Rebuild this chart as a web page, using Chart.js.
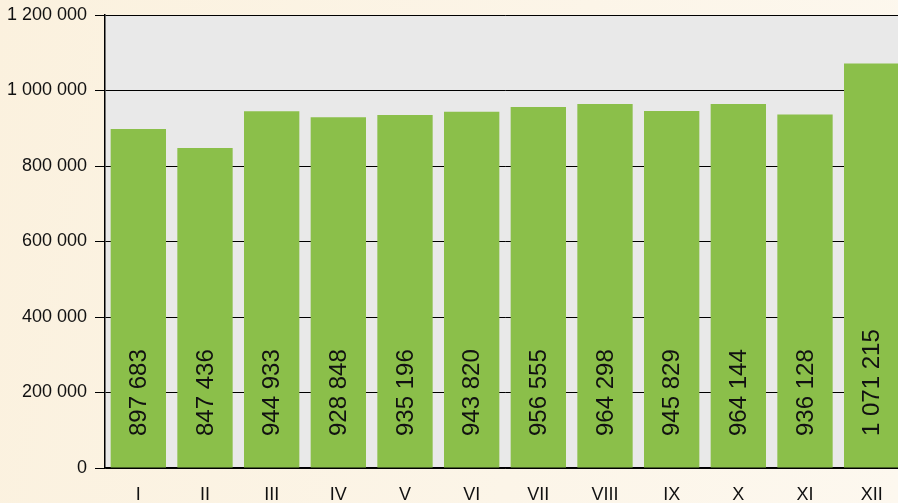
<!DOCTYPE html>
<html>
<head>
<meta charset="utf-8">
<script src="https://cdn.jsdelivr.net/npm/chart.js@4"></script>
<style>
  html, body { margin: 0; padding: 0; overflow: hidden; }
  body { width: 898px; height: 503px; background: linear-gradient(100deg, #fbf1de 0%, #fcf5e8 60%, #fdf8ef 100%); }
  #wrap { width: 905px; height: 503px; }
</style>
</head>
<body>
<div id="wrap"><canvas id="chart" width="905" height="503"></canvas></div>
<script>
// Monthly values
const months = ['I', 'II', 'III', 'IV', 'V', 'VI', 'VII', 'VIII', 'IX', 'X', 'XI', 'XII'];
const values = [897683, 847436, 944933, 928848, 935196, 943820, 956555, 964298, 945829, 964144, 936128, 1071215];
const yTicks = [0, 200000, 400000, 600000, 800000, 1000000, 1200000];

const fmt = v => String(v).replace(/\B(?=(\d{3})+(?!\d))/g, ' ');

// grey plot area
const plotBg = {
    id: 'plotBg',
    beforeDraw(chart) {
        const a = chart.chartArea;
        const ctx = chart.ctx;
        ctx.save();
        ctx.fillStyle = '#e9e9e9';
        ctx.fillRect(a.left, a.top, a.right - a.left, a.bottom - a.top);
        ctx.restore();
    }
};

// rotated value labels inside bars
const valueLabels = {
    id: 'valueLabels',
    afterDatasetsDraw(chart) {
        const ctx = chart.ctx;
        const meta = chart.getDatasetMeta(0);
        const y0 = chart.scales.y.getPixelForValue(0);
        ctx.save();
        ctx.fillStyle = '#111';
        ctx.font = '24px "Liberation Sans", Arial, sans-serif';
        ctx.textAlign = 'left';
        ctx.textBaseline = 'middle';
        meta.data.forEach((bar, i) => {
            ctx.save();
            ctx.translate(bar.x, y0 - 32);
            ctx.rotate(-Math.PI / 2);
            ctx.fillText(fmt(values[i]), 0, 1);
            ctx.restore();
        });
        ctx.restore();
    }
};

new Chart(document.getElementById('chart'), {
    type: 'bar',
    data: {
        labels: months,
        datasets: [{
            data: values,
            backgroundColor: '#8bbf4a',
            borderWidth: 0,
            barPercentage: 0.83,
            categoryPercentage: 1
        }]
    },
    options: {
        responsive: false,
        animation: false,
        layout: { padding: { top: 15, right: 0, bottom: 0, left: 0 } },
        plugins: { legend: { display: false }, tooltip: { enabled: false } },
        scales: {
            x: {
                grid: { display: false },
                border: { display: true, color: '#000', width: 1.5 },
                ticks: { color: '#111', font: { family: '"Liberation Sans", Arial, sans-serif', size: 18 }, padding: 8 },
                afterFit(scale) { scale.height = 35; }
            },
            y: {
                min: 0,
                max: 1200000,
                afterBuildTicks(scale) { scale.ticks = yTicks.map(v => ({ value: v })); },
                grid: { color: '#000', lineWidth: 1, tickLength: 10 },
                border: { display: true, color: '#000', width: 1.5 },
                ticks: {
                    color: '#111',
                    font: { family: '"Liberation Sans", Arial, sans-serif', size: 18, lineHeight: 0.9 },
                    padding: 8,
                    callback: v => fmt(v)
                },
                afterFit(scale) { scale.width = 105; scale.paddingTop = 0; scale.paddingBottom = 0; }
            }
        }
    },
    plugins: [plotBg, valueLabels]
});
</script>
</body>
</html>
